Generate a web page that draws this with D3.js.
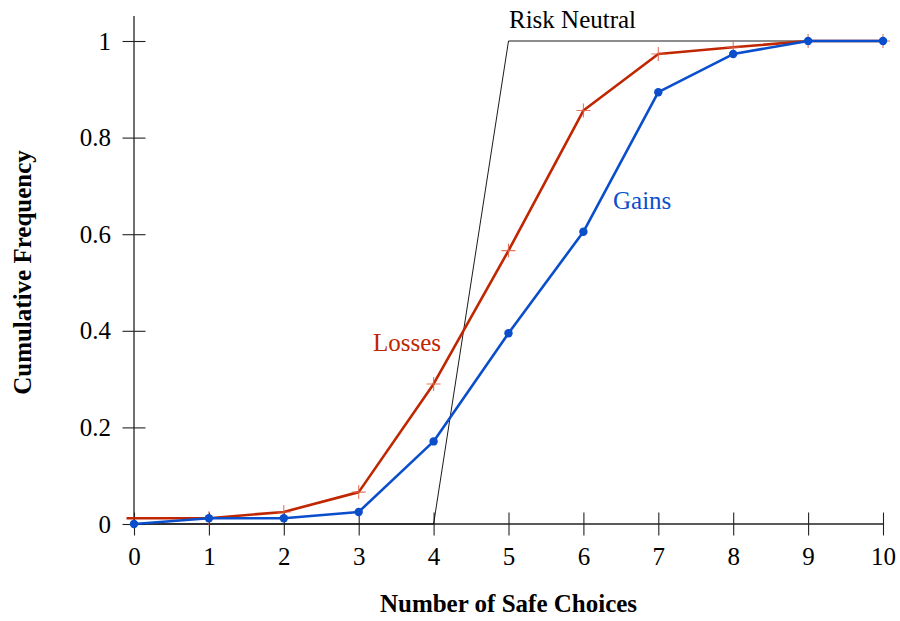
<!DOCTYPE html>
<html>
<head>
<meta charset="utf-8">
<script src="https://cdn.jsdelivr.net/npm/d3@7"></script>
<style>
  body { margin: 0; background: #fff; }
  text { font-family: "Liberation Serif", "DejaVu Serif", serif; }
</style>
</head>
<body>
<div id="chart"></div>
<script>
// choices and cumulative frequencies
var lossX = [-0.1, 1, 2, 3, 4, 5, 6, 7, 8, 9, 10];
var lossY = [0.012, 0.012, 0.025, 0.066, 0.29, 0.566, 0.856, 0.973, 0.987, 1, 1];
var gainX = [0, 1, 2, 3, 4, 5, 6, 7, 8, 9, 10];
var gainY = [0, 0.012, 0.012, 0.025, 0.171, 0.395, 0.605, 0.894, 0.973, 1, 1];
var neutralX = [0, 4, 5, 10];
var neutralY = [0, 0, 1, 1];
var xTicks = [0, 1, 2, 3, 4, 5, 6, 7, 8, 9, 10];
var yTicks = [0, 0.2, 0.4, 0.6, 0.8, 1];

const width = 900, height = 621;
const margin = { top: 41, right: 17, bottom: 97, left: 134 };

var svg = d3.select("#chart").append("svg")
  .attr("width", width)
  .attr("height", height);

var x = d3.scaleLinear().domain([0, 10]).range([margin.left, width - margin.right]);
var y = d3.scaleLinear().domain([0, 1]).range([height - margin.bottom, margin.top]);

var red = "#c02600", blue = "#0a4ecb";

// axes (ticks cross the axis line, pgfplots style)
var xAxis = svg.append("g")
  .attr("transform", `translate(0,${y(0)})`)
  .call(d3.axisBottom(x).tickValues(xTicks).tickSize(0).tickPadding(23).tickFormat(d3.format("d")));
xAxis.select(".domain").remove();
xAxis.append("line")
  .attr("x1", x(0)).attr("x2", x(10))
  .attr("stroke", "#222").attr("stroke-width", 1.3);
xAxis.selectAll(".tick").append("line")
  .attr("y1", -11.5).attr("y2", 11.5)
  .attr("stroke", "#222").attr("stroke-width", 1.1);
xAxis.selectAll(".tick text")
  .attr("fill", "#000").style("font-size", "25px");

var yAxis = svg.append("g")
  .attr("transform", `translate(${x(0)},0)`)
  .call(d3.axisLeft(y).tickValues(yTicks).tickSize(0).tickPadding(23)
    .tickFormat(d => d === 0 || d === 1 ? d3.format("d")(d) : d3.format(".1f")(d)));
yAxis.select(".domain").remove();
yAxis.append("line")
  .attr("y1", 16).attr("y2", y(0))
  .attr("stroke", "#222").attr("stroke-width", 1.3);
yAxis.selectAll(".tick").append("line")
  .attr("x1", -11.5).attr("x2", 11.5)
  .attr("stroke", "#222").attr("stroke-width", 1.1);
yAxis.selectAll(".tick text")
  .attr("fill", "#000").style("font-size", "25px");

// axis titles
svg.append("text")
  .attr("x", (x(0) + x(10)) / 2).attr("y", 612)
  .attr("text-anchor", "middle")
  .style("font-size", "25px").style("font-weight", "bold")
  .text("Number of Safe Choices");
svg.append("text")
  .attr("transform", `translate(31,${(y(0) + y(1)) / 2 - 10}) rotate(-90)`)
  .attr("text-anchor", "middle")
  .style("font-size", "25px").style("font-weight", "bold")
  .text("Cumulative Frequency");

var line = d3.line().x(d => x(d[0])).y(d => y(d[1]));

// risk neutral
svg.append("path")
  .datum(d3.zip(neutralX, neutralY))
  .attr("d", line)
  .attr("fill", "none").attr("stroke", "#000").attr("stroke-width", 0.9);

// losses
var lossPts = d3.zip(lossX, lossY);
svg.append("path")
  .datum(lossPts)
  .attr("d", line)
  .attr("fill", "none").attr("stroke", red).attr("stroke-width", 2.6)
  .attr("stroke-linejoin", "round");
svg.append("g").selectAll("path")
  .data(lossPts.filter(d => d[0] >= 0))
  .join("path")
  .attr("d", d => `M${x(d[0]) - 7},${y(d[1])}h14M${x(d[0])},${y(d[1]) - 7}v14`)
  .attr("stroke", "#e0604a").attr("stroke-width", 1.1).attr("opacity", 0.85);

// gains
var gainPts = d3.zip(gainX, gainY);
svg.append("path")
  .datum(gainPts)
  .attr("d", line)
  .attr("fill", "none").attr("stroke", blue).attr("stroke-width", 2.6)
  .attr("stroke-linejoin", "round");
svg.append("g").selectAll("circle")
  .data(gainPts)
  .join("circle")
  .attr("cx", d => x(d[0])).attr("cy", d => y(d[1]))
  .attr("r", 4.2)
  .attr("fill", blue);

// labels
svg.append("text")
  .attr("x", 509).attr("y", 28)
  .style("font-size", "25px").attr("fill", "#000")
  .text("Risk Neutral");
svg.append("text")
  .attr("x", 373).attr("y", 351)
  .style("font-size", "25px").attr("fill", red)
  .text("Losses");
svg.append("text")
  .attr("x", 613).attr("y", 209)
  .style("font-size", "25px").attr("fill", blue)
  .text("Gains");
</script>
</body>
</html>
